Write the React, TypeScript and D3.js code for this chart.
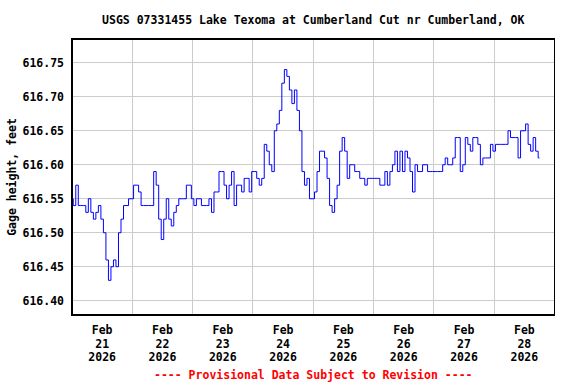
import React from 'react';
import * as d3 from 'd3';

const title = 'USGS 07331455 Lake Texoma at Cumberland Cut nr Cumberland, OK';
const yLabel = 'Gage height, feet';
const footer = '---- Provisional Data Subject to Revision ----';

// hourly readings starting Feb 21 2026 00:00
const startTime = Date.UTC(2026, 1, 21, 0, 0);
const gageFeet = [
  616.55, 616.54, 616.57, 616.54, 616.54, 616.54, 616.53, 616.55, 616.53, 616.52, 616.53, 616.54,
  616.52, 616.50, 616.46, 616.43, 616.45, 616.46, 616.45, 616.50, 616.52, 616.54, 616.54, 616.55,
  616.55, 616.57, 616.57, 616.56, 616.54, 616.54, 616.54, 616.54, 616.54, 616.59, 616.57, 616.52,
  616.49, 616.52, 616.55, 616.52, 616.51, 616.53, 616.54, 616.55, 616.55, 616.55, 616.57, 616.57,
  616.55, 616.54, 616.55, 616.55, 616.54, 616.54, 616.54, 616.55, 616.53, 616.56, 616.56, 616.59,
  616.59, 616.57, 616.55, 616.57, 616.59, 616.54, 616.57, 616.57, 616.56, 616.58, 616.58, 616.56,
  616.59, 616.59, 616.58, 616.57, 616.58, 616.63, 616.62, 616.60, 616.59, 616.65, 616.66, 616.68,
  616.72, 616.74, 616.73, 616.71, 616.69, 616.71, 616.68, 616.65, 616.59, 616.57, 616.58, 616.55,
  616.55, 616.56, 616.59, 616.62, 616.62, 616.61, 616.58, 616.54, 616.53, 616.55, 616.57, 616.62,
  616.64, 616.62, 616.58, 616.60, 616.60, 616.59, 616.59, 616.58, 616.58, 616.57, 616.58, 616.58,
  616.58, 616.58, 616.58, 616.57, 616.57, 616.59, 616.57, 616.59, 616.60, 616.62, 616.59, 616.62,
  616.59, 616.62, 616.61, 616.59, 616.56, 616.60, 616.59, 616.59, 616.60, 616.60, 616.59, 616.59,
  616.59, 616.59, 616.59, 616.59, 616.60, 616.61, 616.60, 616.60, 616.61, 616.64, 616.64, 616.59,
  616.60, 616.64, 616.63, 616.62, 616.64, 616.64, 616.63, 616.60, 616.61, 616.61, 616.61, 616.63,
  616.62, 616.63, 616.63, 616.63, 616.63, 616.63, 616.65, 616.64, 616.64, 616.64, 616.61, 616.65,
  616.65, 616.66, 616.63, 616.62, 616.64, 616.62, 616.61,
];

const yTicks = [616.40, 616.45, 616.50, 616.55, 616.60, 616.65, 616.70, 616.75];
const dayTicks = [21, 22, 23, 24, 25, 26, 27, 28];

const W = 576;
const H = 384;
const plot = {left: 72, right: 554.5, top: 39, bottom: 315};
const font = '"DejaVu Sans Mono", monospace';

const App = (): JSX.Element => {
  const x = d3.scaleUtc()
    .domain([new Date(Date.UTC(2026, 1, 21)), new Date(Date.UTC(2026, 2, 1))])
    .range([plot.left, plot.right]);
  const y = d3.scaleLinear().domain([616.379, 616.785]).range([plot.bottom, plot.top]);

  const points: [Date, number][] = gageFeet.map((v, i) => [new Date(startTime + i * 3600000), v]);
  const path = d3.line<[Date, number]>()
    .x(d => x(d[0]))
    .y(d => y(d[1]))
    .curve(d3.curveStep)(points);

  const dayLines = x.ticks(d3.utcDay.every(1)!);

  return (
    <svg width={W} height={H} style={{position: 'absolute', left: 0, top: 0, background: '#fff'}}
      fontFamily={font} fontWeight="bold" fontSize={11.5}>
      <rect x={0} y={0} width={W} height={H} fill="#fff" />
      <text x={(plot.left + plot.right) / 2} y={24} textAnchor="middle">{title}</text>
      <g stroke="#cccccc" strokeWidth={1} shapeRendering="crispEdges">
        {yTicks.map(t => (
          <line key={t} x1={plot.left} x2={plot.right} y1={y(t)} y2={y(t)} />
        ))}
        {dayLines.map(d => (
          <line key={+d} x1={x(d)} x2={x(d)} y1={plot.top} y2={plot.bottom} />
        ))}
      </g>
      <path d={path ?? ''} fill="none" stroke="#0000ff" strokeWidth={1} />
      <rect x={plot.left} y={plot.top} width={plot.right - plot.left} height={plot.bottom - plot.top}
        fill="none" stroke="#000" strokeWidth={1.5} shapeRendering="crispEdges" />
      {yTicks.map(t => (
        <text key={t} x={64} y={y(t) + 4} textAnchor="end">{t.toFixed(2)}</text>
      ))}
      <text transform={`translate(16,${(plot.top + plot.bottom) / 2}) rotate(-90)`} textAnchor="middle">{yLabel}</text>
      {dayTicks.map(d => {
        const cx = x(new Date(Date.UTC(2026, 1, d, 12)));
        return (
          <g key={d} textAnchor="middle">
            <text x={cx} y={334}>Feb</text>
            <text x={cx} y={348}>{d}</text>
            <text x={cx} y={361}>2026</text>
          </g>
        );
      })}
      <text x={(plot.left + plot.right) / 2} y={379} textAnchor="middle" fill="#ff0000">{footer}</text>
    </svg>
  );
};

export default App;
